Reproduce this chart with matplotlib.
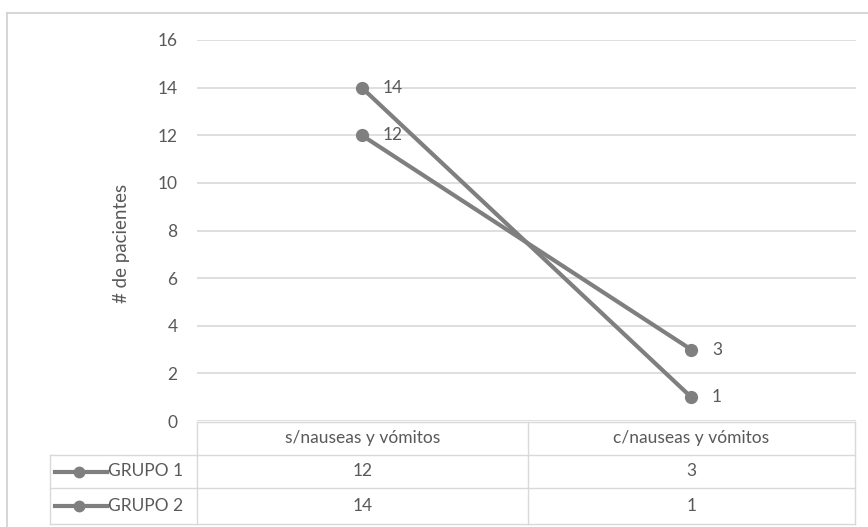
import matplotlib
matplotlib.use("Agg")
import matplotlib.pyplot as plt
from matplotlib.lines import Line2D

categories = ["s/nauseas y vómitos", "c/nauseas y vómitos"]
series_names = ["GRUPO 1", "GRUPO 2"]
grupo1 = [12, 3]
grupo2 = [14, 1]
series_values = [grupo1, grupo2]
y_ticks = [0, 2, 4, 6, 8, 10, 12, 14, 16]
y_label = "# de pacientes"

W, H = 868, 527
LINE = "#7f7f7f"
GRID = "#d9d9d9"
TEXT = "#595959"
FONT = "Lato"
FS = 12.5

plt.rcParams["font.family"] = [FONT, "DejaVu Sans"]

fig = plt.figure(figsize=(W / 100, H / 100), dpi=100)
fig.patch.set_facecolor("white")


def fx(x):
    return x / W


def fy(y):
    return 1 - y / H


def fline(x0, y0, x1, y1, color=GRID, lw=1.0):
    fig.add_artist(Line2D([fx(x0), fx(x1)], [fy(y0), fy(y1)],
                          transform=fig.transFigure, color=color, lw=lw))


# chart frame
fline(7, 13, 868, 13, color="#d0d0d0", lw=1.2)
fline(7, 13, 7, 527, color="#d0d0d0", lw=1.2)

# plot area
left, right, top, bottom = 197, 856, 40, 421
ax = fig.add_axes([fx(left), fy(bottom), fx(right - left), (bottom - top) / H])
ax.set_xlim(-0.5, len(categories) - 0.5)
ax.set_ylim(y_ticks[0], y_ticks[-1])
ax.set_yticks(y_ticks)
ax.set_yticklabels([str(t) for t in y_ticks], fontsize=FS, color=TEXT)
ax.tick_params(axis="y", length=0, pad=14)
ax.set_xticks([])
for s in ax.spines.values():
    s.set_visible(False)
ax.grid(axis="y", color=GRID, lw=1.2)
ax.set_axisbelow(True)
ax.set_facecolor("none")

x = list(range(len(categories)))
for vals in series_values:
    ax.plot(x, vals, color=LINE, lw=3, marker="o", markersize=8.5,
            solid_capstyle="round", zorder=3)
    for xi, v in zip(x, vals):
        ax.annotate(str(v), (xi, v), xytext=(15, 0), textcoords="offset points",
                    va="center", ha="left", fontsize=FS, color=TEXT)

fig.text(fx(122), fy(243), y_label, rotation=90, ha="center", va="center",
         fontsize=13.5, color=TEXT)

# data table under the plot
col_x = [50, 197, 528, 855]
row_y = [422, 455, 488, 524]
fline(col_x[1], row_y[0], col_x[3], row_y[0])
for yy in row_y[1:]:
    fline(col_x[0], yy, col_x[3], yy)
fline(col_x[0], row_y[1], col_x[0], row_y[3])
for xx in col_x[1:]:
    fline(xx, row_y[0], xx, row_y[3])

for i, cat in enumerate(categories):
    cx = (col_x[i + 1] + col_x[i + 2]) / 2
    fig.text(fx(cx), fy((row_y[0] + row_y[1]) / 2), cat, ha="center",
             va="center", fontsize=FS, color=TEXT)

for r, (name, vals) in enumerate(zip(series_names, series_values)):
    cy = (row_y[r + 1] + row_y[r + 2]) / 2
    fig.add_artist(Line2D([fx(55), fx(107)], [fy(cy), fy(cy)],
                          transform=fig.transFigure, color=LINE, lw=3))
    fig.add_artist(Line2D([fx(79)], [fy(cy)], transform=fig.transFigure,
                          color=LINE, marker="o", markersize=7.5, lw=0))
    fig.text(fx(108), fy(cy), name, ha="left", va="center", fontsize=FS,
             color=TEXT)
    for i, v in enumerate(vals):
        cx = (col_x[i + 1] + col_x[i + 2]) / 2
        fig.text(fx(cx), fy(cy), str(v), ha="center", va="center",
                 fontsize=FS, color=TEXT)

fig.savefig("out.png", dpi=100, facecolor="white")
